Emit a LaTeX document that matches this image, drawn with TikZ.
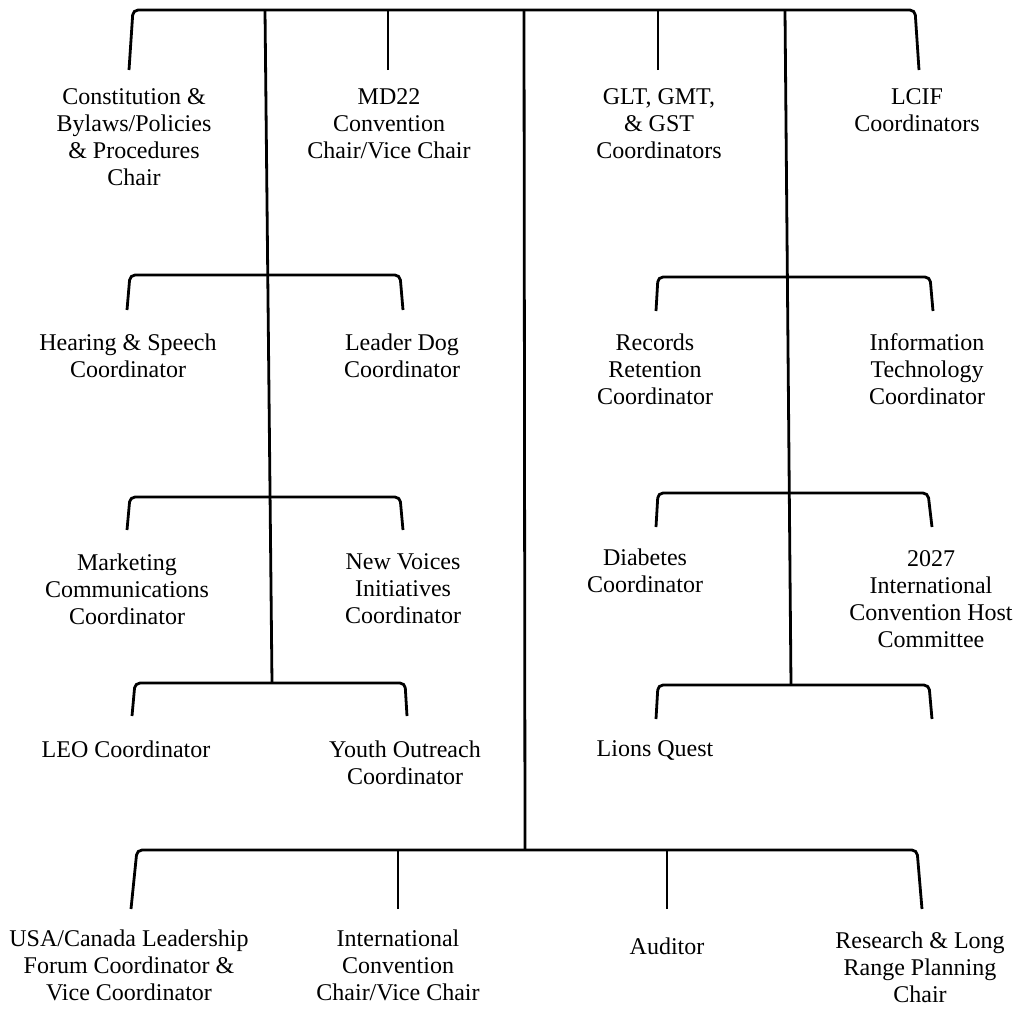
\documentclass[tikz,border=0pt]{standalone}
\usepackage{fontspec}
\setmainfont{Liberation Serif}
\usetikzlibrary{calc}

\tikzset{
  post/.style={anchor=north, align=center, inner sep=0pt,
    font=\fontsize{12}{13.5}\selectfont},
  bar/.style={line width=1.4pt, rounded corners=2.5pt},
}

\begin{document}
\begin{tikzpicture}[x=0.5pt, y=-0.5pt]
  \useasboundingbox (0,0) rectangle (1018,1009);

  % Posts in the top row
  \node[post] (c1) at (134,88) {Constitution \&\\Bylaws/Policies\\\& Procedures\\Chair};
  \node[post] (c2) at (389,88) {MD22\\Convention\\Chair/Vice Chair};
  \node[post] (c3) at (659,88) {GLT, GMT,\\\& GST\\Coordinators};
  \node[post] (c4) at (917,88) {LCIF\\Coordinators};

  % Posts on the two side branches
  \node[post] (h1) at (128,333) {Hearing \& Speech\\Coordinator};
  \node[post] (h2) at (402,333) {Leader Dog\\Coordinator};
  \node[post] (r1) at (655,333) {Records\\Retention\\Coordinator};
  \node[post] (r2) at (927,333) {Information\\Technology\\Coordinator};
  \node[post] (m1) at (127,553) {Marketing\\Communications\\Coordinator};
  \node[post] (m2) at (403,553) {New Voices\\Initiatives\\Coordinator};
  \node[post] (d1) at (645,548) {Diabetes\\Coordinator};
  \node[post] (d2) at (931,550) {2027\\International\\Convention Host\\Committee};
  \node[post] (l1) at (126,740) {LEO Coordinator};
  \node[post] (l2) at (405,740) {Youth Outreach\\Coordinator};
  \node[post] (q1) at (655,740) {Lions Quest};

  % Posts in the bottom row
  \node[post] (b1) at (129,929) {USA/Canada Leadership\\Forum Coordinator \&\\Vice Coordinator};
  \node[post] (b2) at (398,929) {International\\Convention\\Chair/Vice Chair};
  \node[post] (b3) at (667,937) {Auditor};
  \node[post] (b4) at (920,931) {Research \& Long\\Range Planning\\Chair};

  % Line ends above the posts
  \coordinate (c1 end) at (129,70);
  \coordinate (c2 end) at (388,70);
  \coordinate (c3 end) at (658,70);
  \coordinate (c4 end) at (919,70);
  \coordinate (h1 end) at (127,310);
  \coordinate (h2 end) at (403,310);
  \coordinate (r1 end) at (656,311);
  \coordinate (r2 end) at (933,311);
  \coordinate (m1 end) at (127,530);
  \coordinate (m2 end) at (403,530);
  \coordinate (d1 end) at (656,527);
  \coordinate (d2 end) at (932,527);
  \coordinate (l1 end) at (132,716);
  \coordinate (l2 end) at (407,716);
  \coordinate (q1 end) at (656,719);
  \coordinate (q2 end) at (932,719);
  \coordinate (b1 end) at (131,909);
  \coordinate (b2 end) at (398,909);
  \coordinate (b3 end) at (667,909);
  \coordinate (b4 end) at (922,909);

  % Trunks
  \coordinate (spineL) at (265,10);
  \coordinate (spineM) at (524,10);
  \coordinate (spineR) at (785,10);
  \coordinate (footL) at (272,683);
  \coordinate (footM) at (525,850);
  \coordinate (footR) at (791,685);

  % Top bracket
  \draw[bar] (c1 end) -- ++(4,-60) -- ++(782,0) -- (c4 end);
  \draw[bar] (c2 end) -- ++(0,-60);
  \draw[bar] (c3 end) -- ++(0,-60);

  \draw[bar] (spineL) -- (footL);
  \draw[bar] (spineM) -- (footM);
  \draw[bar] (spineR) -- (footR);

  % Left branch
  \draw[bar] (h1 end) -- ++(3,-35) -- ++(270,0) -- (h2 end);
  \draw[bar] (m1 end) -- ++(3,-33) -- ++(270,0) -- (m2 end);
  \draw[bar] (l1 end) -- ++(3,-33) -- ++(270,0) -- (l2 end);

  % Right branch
  \draw[bar] (r1 end) -- ++(2,-34) -- ++(272,0) -- (r2 end);
  \draw[bar] (d1 end) -- ++(2,-34) -- ++(270,0) -- (d2 end);
  \draw[bar] (q1 end) -- ++(2,-34) -- ++(271,0) -- (q2 end);

  % Bottom bracket
  \draw[bar] (b1 end) -- ++(6,-59) -- ++(780,0) -- (b4 end);
  \draw[bar] (b2 end) -- ++(0,-59);
  \draw[bar] (b3 end) -- ++(0,-59);
\end{tikzpicture}
\end{document}
